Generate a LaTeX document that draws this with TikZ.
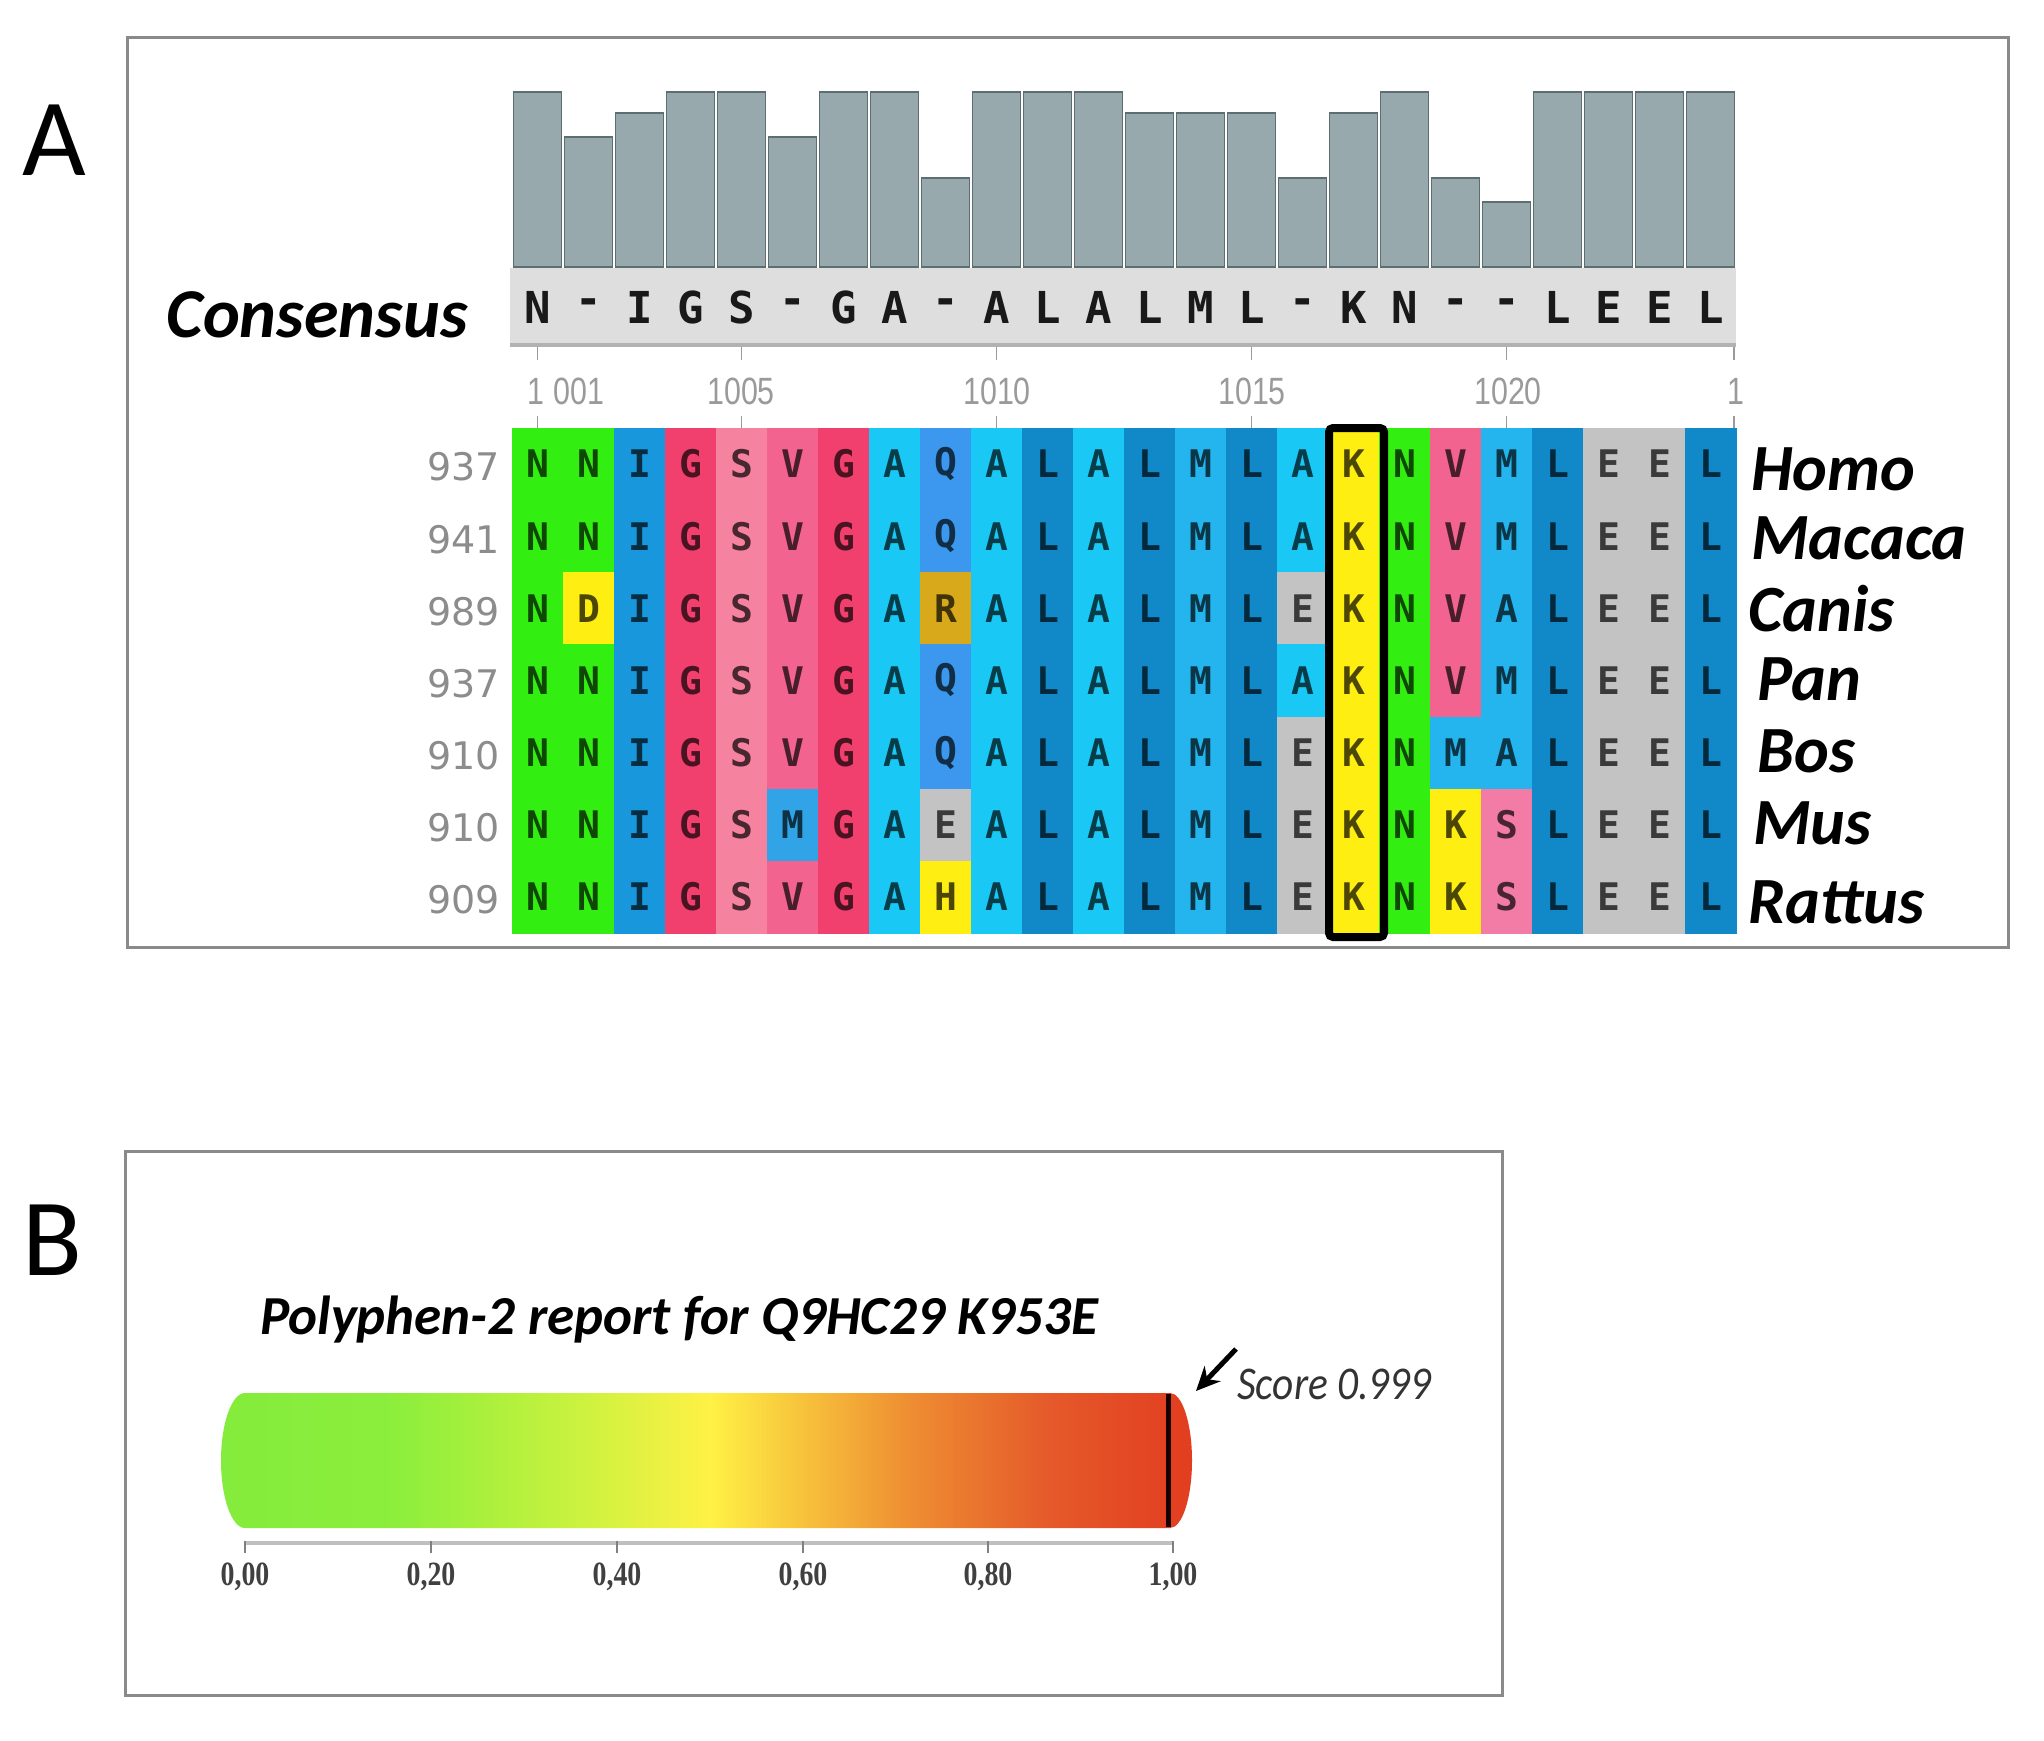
\documentclass[tikz,border=0pt]{standalone}
\usepackage{fontspec}
\setmainfont{Carlito}
\newfontfamily\calibri{Carlito}
\newfontfamily\calibrinarrow{Carlito}[FakeStretch=0.88]
\newfontfamily\monof{DejaVu Sans Mono}
\newfontfamily\verdf{DejaVu Sans}
\newfontfamily\narrowf{Liberation Sans}[FakeStretch=0.8]
\newfontfamily\serifnf{Liberation Serif}[FakeStretch=0.82]
\usetikzlibrary{arrows.meta}

\definecolor{frameGray}{HTML}{8A8A8A}
\definecolor{barFill}{HTML}{98A9AE}
\definecolor{barEdge}{HTML}{5C6E72}
\definecolor{bandGray}{HTML}{DEDEDE}
\definecolor{bandLine}{HTML}{B2B2B2}
\definecolor{rulerGray}{HTML}{9A9A9A}
\definecolor{cN}{HTML}{33EE11}
\definecolor{cY}{HTML}{FFEE11}
\definecolor{cI}{HTML}{1897DC}
\definecolor{cG}{HTML}{F2406E}
\definecolor{cS}{HTML}{F5829F}
\definecolor{cV}{HTML}{F2638F}
\definecolor{cA}{HTML}{19C8F5}
\definecolor{cQ}{HTML}{3B98EE}
\definecolor{cR}{HTML}{D9A91C}
\definecolor{cE}{HTML}{C3C3C3}
\definecolor{cL}{HTML}{1188C8}
\definecolor{cM}{HTML}{24B4EE}
\definecolor{cB}{HTML}{30A4E6}
\definecolor{cP}{HTML}{F27CA6}
\definecolor{pgA}{HTML}{84EC3C}
\definecolor{pgB}{HTML}{8DEE3C}
\definecolor{pgC}{HTML}{C4F23E}
\definecolor{pgD}{HTML}{FFF145}
\definecolor{pgE}{HTML}{F7C43C}
\definecolor{pgF}{HTML}{EE8D32}
\definecolor{pgG}{HTML}{E5592A}
\definecolor{pgH}{HTML}{E23D20}

\pgfdeclarehorizontalshading{polyshade}{100bp}{color(0bp)=(pgA); color(25bp)=(pgA); color(34.2bp)=(pgB); color(42.5bp)=(pgC); color(50.2bp)=(pgD); color(54.8bp)=(pgE); color(60.5bp)=(pgF); color(67.7bp)=(pgG); color(75bp)=(pgH); color(100bp)=(pgH)}

\tikzset{
  frame/.style={draw=frameGray, line width=3pt},
  histbar/.style={fill=barFill, draw=barEdge, line width=1.5pt},
  conslet/.style={font=\monof\bfseries\fontsize{44}{50}\selectfont, text=black!90, inner sep=0pt},
  alnlet/.style={font=\monof\bfseries\fontsize{38}{44}\selectfont, inner sep=0pt},
  rowlab/.style={font=\verdf\fontsize{38}{42}\selectfont, text=black!45, inner sep=0pt, anchor=east},
  rulerlab/.style={font=\narrowf\fontsize{38}{42}\selectfont, text=rulerGray, inner sep=0pt},
  rulertick/.style={draw=rulerGray, line width=1.5pt},
  species/.style={font=\calibri\bfseries\itshape\fontsize{66}{72}\selectfont, inner sep=0pt},
  panellab/.style={font=\calibri\fontsize{110}{120}\selectfont, inner sep=0pt},
  scalelab/.style={font=\serifnf\bfseries\fontsize{34}{38}\selectfont, text=black!75, inner sep=0pt},
}

\newcommand\alnrow[2]{%
  \foreach \ltr/\clr [count=\c] in {#2} {
    \pgfmathsetmacro\xa{512+51*(\c-1)}
    \pgfmathsetmacro\ya{428+72.14*(#1-1)}
    \fill[\clr] (\xa,\ya) rectangle ++(51.6,72.7);
  }
  \foreach \ltr/\clr [count=\c] in {#2} {
    \pgfmathsetmacro\xa{512+51*(\c-0.5)}
    \pgfmathsetmacro\ya{428+72.14*(#1-0.5)}
    \node[alnlet, text=\clr!30!black] (res-#1-\c) at (\xa,\ya) {\ltr};
  }%
}

\begin{document}
\begin{tikzpicture}[x=1pt,y=-1pt]
\useasboundingbox (0,0) rectangle (2044,1740);
\fill[white] (0,0) rectangle (2044,1740);

% ---------------- Panel A ----------------
\draw[frame] (127,37) rectangle (2008,947);
\node[panellab] (labA) at (54,140) {A};

% histogram
\foreach \t [count=\i] in {92,137,113,92,92,137,92,92,178,92,92,92,113,113,113,178,113,92,178,202,92,92,92,92} {
  \pgfmathsetmacro\xl{512+51*(\i-1)+1.5}
  \pgfmathsetmacro\xr{512+51*\i-1.5}
  \draw[histbar] (\xl,\t) rectangle (\xr,267);
}
% consensus band
\fill[bandGray] (510,268) rectangle (1736,343);
\fill[bandLine] (510,343) rectangle (1736,347);
\foreach \ch [count=\i] in {N,-,I,G,S,-,G,A,-,A,L,A,L,M,L,-,K,N,-,-,L,E,E,L} {
  \node[conslet] (cons-\i) at ({512+51*(\i-0.5)},307) {\ch};
}
\node[species, font=\calibri\bfseries\itshape\fontsize{70}{76}\selectfont, anchor=east] (consensus) at (468,315) {Consensus};

% ruler
\foreach \tx in {537.5,741.5,996.5,1251.5,1506.5,1734} {
  \draw[rulertick] (\tx,347) -- (\tx,360);
  \draw[rulertick] (\tx,416) -- (\tx,428);
}
\node[rulerlab] (r1001) at (566,391) {1 001};
\node[rulerlab] (r1005) at (741,391) {1005};
\node[rulerlab] (r1010) at (997,391) {1010};
\node[rulerlab] (r1015) at (1252,391) {1015};
\node[rulerlab] (r1020) at (1508,391) {1020};
\node[rulerlab] (r1025) at (1736,391) {1};

% alignment
\alnrow{1}{N/cN,N/cN,I/cI,G/cG,S/cS,V/cV,G/cG,A/cA,Q/cQ,A/cA,L/cL,A/cA,L/cL,M/cM,L/cL,A/cA,K/cY,N/cN,V/cV,M/cM,L/cL,E/cE,E/cE,L/cL}
\alnrow{2}{N/cN,N/cN,I/cI,G/cG,S/cS,V/cV,G/cG,A/cA,Q/cQ,A/cA,L/cL,A/cA,L/cL,M/cM,L/cL,A/cA,K/cY,N/cN,V/cV,M/cM,L/cL,E/cE,E/cE,L/cL}
\alnrow{3}{N/cN,D/cY,I/cI,G/cG,S/cS,V/cV,G/cG,A/cA,R/cR,A/cA,L/cL,A/cA,L/cL,M/cM,L/cL,E/cE,K/cY,N/cN,V/cV,A/cM,L/cL,E/cE,E/cE,L/cL}
\alnrow{4}{N/cN,N/cN,I/cI,G/cG,S/cS,V/cV,G/cG,A/cA,Q/cQ,A/cA,L/cL,A/cA,L/cL,M/cM,L/cL,A/cA,K/cY,N/cN,V/cV,M/cM,L/cL,E/cE,E/cE,L/cL}
\alnrow{5}{N/cN,N/cN,I/cI,G/cG,S/cS,V/cV,G/cG,A/cA,Q/cQ,A/cA,L/cL,A/cA,L/cL,M/cM,L/cL,E/cE,K/cY,N/cN,M/cM,A/cM,L/cL,E/cE,E/cE,L/cL}
\alnrow{6}{N/cN,N/cN,I/cI,G/cG,S/cS,M/cB,G/cG,A/cA,E/cE,A/cA,L/cL,A/cA,L/cL,M/cM,L/cL,E/cE,K/cY,N/cN,K/cY,S/cP,L/cL,E/cE,E/cE,L/cL}
\alnrow{7}{N/cN,N/cN,I/cI,G/cG,S/cS,V/cV,G/cG,A/cA,H/cY,A/cA,L/cL,A/cA,L/cL,M/cM,L/cL,E/cE,K/cY,N/cN,K/cY,S/cP,L/cL,E/cE,E/cE,L/cL}

% highlight box on K
\draw[line width=8pt, rounded corners=4pt] (1329,428) rectangle (1384,937);

% row numbers
\foreach \n [count=\r] in {937,941,989,937,910,910,909} {
  \node[rowlab] (num-\r) at (500,{428+72.14*(\r-0.5)+3}) {\n};
}
% species
\node[species, anchor=west] (homo)   at (1751,469) {Homo};
\node[species, anchor=west] (macaca) at (1751,538) {Macaca};
\node[species, anchor=west] (canis)  at (1748,609) {Canis};
\node[species, anchor=west] (pan)    at (1757,679) {Pan};
\node[species, anchor=west] (bos)    at (1757,751) {Bos};
\node[species, anchor=west] (mus)    at (1753,823) {Mus};
\node[species, anchor=west] (rattus) at (1748,902) {Rattus};

% ---------------- Panel B ----------------
\draw[frame] (125,1151) rectangle (1502,1695);
\node[panellab] (labB) at (52,1240) {B};
\node[font=\calibri\bfseries\itshape\fontsize{55}{60}\selectfont, inner sep=0pt, anchor=west] (ptitle) at (260,1320) {Polyphen-2 report for Q9HC29 K953E};

\shade[shading=polyshade] (245,1393) -- (1170,1393)
  arc[start angle=90, end angle=-90, x radius=22pt, y radius=67.5pt]
  -- (245,1528)
  arc[start angle=270, end angle=90, x radius=24pt, y radius=67.5pt] -- cycle;
\draw[line width=5pt, draw=black!90!red] (1168,1394) -- (1168,1527);

\draw[draw=black!25, line width=4pt] (245,1543) -- (1173,1543);
\foreach \tx in {245,431,617,803,988,1173} {
  \draw[draw=black!50, line width=1.5pt] (\tx,1541) -- (\tx,1553);
}
\node[scalelab] (s0) at (245,1577) {0,00};
\node[scalelab] (s1) at (431,1577) {0,20};
\node[scalelab] (s2) at (617,1577) {0,40};
\node[scalelab] (s3) at (803,1577) {0,60};
\node[scalelab] (s4) at (988,1577) {0,80};
\node[scalelab] (s5) at (1173,1577) {1,00};

\node[font=\calibrinarrow\itshape\fontsize{47}{52}\selectfont, text=black!80, inner sep=0pt, anchor=west] (score) at (1237,1384) {Score 0.999};
\coordinate (arrtail) at (1236,1349);
\coordinate (arrhead) at (1196,1391);
\draw[line width=5pt, -{Stealth[length=24pt, width=22pt]}] (arrtail) -- (arrhead);
\end{tikzpicture}
\end{document}
